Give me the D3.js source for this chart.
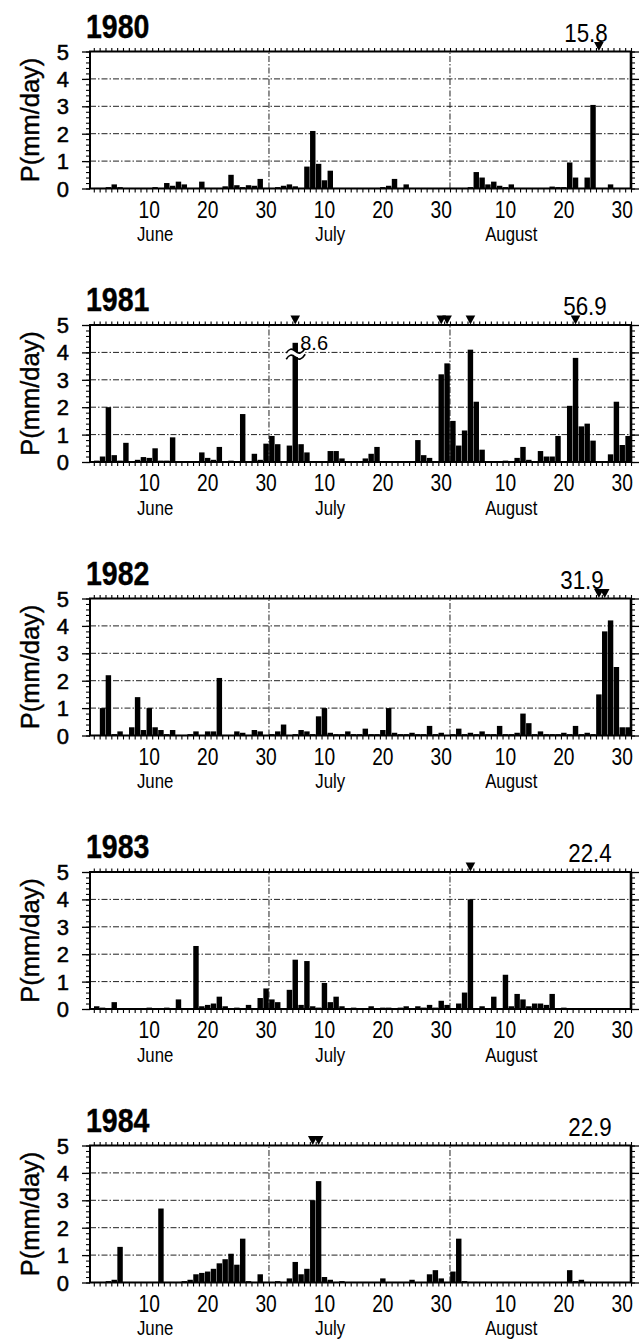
<!DOCTYPE html>
<html><head><meta charset="utf-8">
<script src="https://cdn.jsdelivr.net/npm/d3@7"></script>
<style>body{margin:0;background:#fff} svg{display:block}</style>
</head><body>
<svg id="chart" width="642" height="1340"></svg>
<script>
// Daily precipitation (mm/day), 1 June .. 31 August (92 days) for each summer
const years = ["1980", "1981", "1982", "1983", "1984"];
const totals = ["15.8", "56.9", "31.9", "22.4", "22.9"];

const p1980 = [
  0.02,0.02,0.05,0.15,0.05,0.02,0.02,0.02,0.02,0.02, 0.05,0.02,0.2,0.1,0.25,0.15,0.02,0.02,0.25,0.02,
  0.02,0.02,0.08,0.5,0.12,0.05,0.12,0.1,0.35,0.02,
  0.02,0.05,0.1,0.15,0.08,0.02,0.8,2.1,0.9,0.3, 0.65,0.02,0.02,0.02,0.02,0.02,0.02,0.02,0.02,0.05,
  0.1,0.35,0.02,0.15,0.02,0.02,0.02,0.02,0.02,0.02, 0.02,
  0.02,0.02,0.02,0.05,0.6,0.4,0.15,0.25,0.1,0.05, 0.15,0.02,0.02,0.02,0.02,0.02,0.02,0.07,0.05,0.05,
  0.95,0.4,0.02,0.4,3.05,0.02,0.02,0.15,0.02,0.02, 0.02
];
const p1981 = [
  0.05,0.2,2.0,0.25,0.05,0.7,0.02,0.08,0.18,0.15, 0.5,0.05,0.05,0.9,0.02,0.02,0.03,0.03,0.35,0.15,
  0.08,0.55,0.02,0.05,0.02,1.75,0.02,0.3,0.08,0.67,
  0.95,0.65,0.02,0.6,8.6,0.65,0.35,0.02,0.02,0.02, 0.4,0.4,0.13,0.02,0.02,0.02,0.13,0.3,0.55,0.02,
  0.02,0.02,0.02,0.02,0.02,0.8,0.25,0.15,0.02,3.2, 3.6,
  1.5,0.6,1.15,4.1,2.2,0.45,0.02,0.02,0.02,0.05, 0.02,0.15,0.55,0.08,0.02,0.4,0.2,0.2,0.95,0.02,
  2.05,3.8,1.3,1.4,0.78,0.02,0.02,0.28,2.2,0.62, 0.95
];
const p1982 = [
  0.02,1.0,2.2,0.05,0.15,0.02,0.3,1.4,0.2,1.0, 0.3,0.2,0.05,0.2,0.02,0.02,0.05,0.15,0.02,0.15,
  0.15,2.1,0.02,0.02,0.15,0.1,0.02,0.2,0.15,0.02,
  0.05,0.15,0.4,0.02,0.05,0.2,0.15,0.05,0.7,1.0, 0.1,0.05,0.05,0.15,0.05,0.05,0.25,0.05,0.05,0.2,
  1.0,0.1,0.05,0.05,0.1,0.05,0.05,0.35,0.05,0.1, 0.02,
  0.05,0.25,0.05,0.1,0.05,0.15,0.05,0.05,0.35,0.05, 0.05,0.1,0.8,0.45,0.05,0.15,0.05,0.05,0.05,0.1,
  0.05,0.35,0.05,0.1,0.05,1.5,3.8,4.2,2.5,0.3, 0.3
];
const p1983 = [
  0.1,0.05,0.02,0.25,0.02,0.02,0.02,0.02,0.02,0.05, 0.02,0.02,0.05,0.02,0.35,0.02,0.02,2.3,0.1,0.15,
  0.2,0.45,0.1,0.02,0.05,0.02,0.15,0.02,0.4,0.75,
  0.35,0.25,0.02,0.7,1.8,0.15,1.75,0.1,0.05,0.95, 0.25,0.45,0.1,0.02,0.05,0.02,0.02,0.1,0.02,0.05,
  0.05,0.02,0.05,0.1,0.02,0.1,0.05,0.15,0.05,0.3, 0.15,
  0.02,0.2,0.6,4.0,0.02,0.1,0.02,0.45,0.02,1.25, 0.1,0.55,0.35,0.1,0.2,0.2,0.15,0.55,0.02,0.05,
  0.02,0.02,0.02,0.02,0.02,0.02,0.02,0.02,0.02,0.02, 0.02
];
const p1984 = [
  0.02,0.02,0.05,0.1,1.3,0.02,0.02,0.02,0.02,0.02, 0.02,2.7,0.02,0.02,0.02,0.05,0.1,0.3,0.35,0.4,
  0.5,0.7,0.85,1.05,0.65,1.6,0.05,0.02,0.3,0.02,
  0.02,0.05,0.02,0.15,0.75,0.3,0.5,3.0,3.7,0.2, 0.1,0.02,0.05,0.02,0.02,0.02,0.02,0.02,0.02,0.15,
  0.02,0.02,0.02,0.02,0.1,0.02,0.02,0.3,0.45,0.15, 0.02,
  0.4,1.6,0.05,0.02,0.02,0.02,0.02,0.02,0.02,0.02, 0.02,0.02,0.02,0.02,0.02,0.02,0.02,0.02,0.02,0.02,
  0.45,0.05,0.1,0.02,0.02,0.02,0.02,0.02,0.02,0.02, 0.02
];
const series = [p1980, p1981, p1982, p1983, p1984];

// Days (0 = 1 June) flagged with a triangle above the frame
const marks1980 = [86];
const marks1981 = [34, 59, 60, 64, 82];
const marks1982 = [86, 87];
const marks1983 = [64];
const marks1984 = [37, 38];
const marks = [marks1980, marks1981, marks1982, marks1983, marks1984];

const yTickValues = [0, 1, 2, 3, 4, 5];
const dayLabels = [10, 20, 30];
const months = ["June", "July", "August"];
const monthStart = [0, 30, 61];
const totalX = [586, 585, 582, 590, 590];

const svg = d3.select("#chart");
const FONT = "'Liberation Sans', Arial, Helvetica, sans-serif";
const PANEL_STEP = 273.5;
const TOP0 = 51.5, PH = 137;
const CLIP = 4.35;   // off-scale bars are cut here with a break mark

const x = d3.scaleLinear().domain([-0.65, 92]).range([90, 631]);
const gridDash = "6,2,1.5,2";

function label(g, tx, ty, str, size, opts = {}) {
  const sx = opts.sx || 1;
  const t = g.append("text")
    .attr("transform", `translate(${tx},${ty}) scale(${sx},1)` + (opts.rot ? ` rotate(${opts.rot})` : ""))
    .attr("text-anchor", opts.anchor || "middle")
    .attr("font-family", FONT)
    .attr("font-size", size)
    .attr("font-weight", opts.weight || "normal")
    .attr("fill", "#000")
    .text(str);
  if (opts.heavy) t.attr("stroke", "#000").attr("stroke-width", opts.heavy);
  return t;
}

years.forEach((yr, i) => {
  const y5 = TOP0 + i * PANEL_STEP;
  const y0 = y5 + PH;
  const y = d3.scaleLinear().domain([0, 5]).range([y0, y5]);
  const g = svg.append("g");
  const data = series[i];

  // grid lines at 1..4 mm/day
  g.selectAll(".grid").data([1, 2, 3, 4]).join("line")
    .attr("x1", x.range()[0]).attr("x2", x.range()[1])
    .attr("y1", d => y(d)).attr("y2", d => y(d))
    .attr("stroke", "#222").attr("stroke-width", 1).attr("stroke-dasharray", gridDash);

  // month separators
  g.selectAll(".msep").data([30, 61]).join("line")
    .attr("x1", d => x(d)).attr("x2", d => x(d))
    .attr("y1", y0).attr("y2", y5)
    .attr("stroke", "#222").attr("stroke-width", 1).attr("stroke-dasharray", gridDash);

  // bars
  const shown = d => (d > 5 ? CLIP : d);
  g.selectAll(".bar").data(data).join("rect")
    .attr("x", (d, k) => x(k) + 0.2)
    .attr("width", (d, k) => x(k + 1) - x(k) - 0.4)
    .attr("y", d => y(shown(d)))
    .attr("height", d => y0 - y(shown(d)))
    .attr("fill", "#000");

  // break marks and value for off-scale bars
  data.forEach((d, k) => {
    if (d <= 5) return;
    const cx = x(k + 0.5);
    const ya = y(4.08), yb = y(3.86);
    const wave = (yy) => `M${cx - 9},${yy + 3} q4,-7 9,-2 t10,-3`;
    g.append("path")
      .attr("d", `M${cx - 9},${ya + 3} q4,-7 9,-2 t10,-3 L${cx + 10},${yb - 2} q-5,5 -10,2 t-9,3 Z`)
      .attr("fill", "#fff");
    [ya, yb].forEach(yy => g.append("path").attr("d", wave(yy))
      .attr("fill", "none").attr("stroke", "#000").attr("stroke-width", 1.6));
    label(g, cx + 5, y(4.1), String(d), 20, { anchor: "start" });
  });

  // axes with fine ticks
  const dayTicks = d3.range(0, 93);
  g.append("g").attr("transform", `translate(0,${y0})`)
    .call(d3.axisBottom(x).tickValues(dayTicks).tickSize(4).tickFormat(""))
    .call(a => a.select(".domain").remove())
    .call(a => a.selectAll("line").attr("stroke-width", 1.1));
  g.append("g").attr("transform", `translate(0,${y5})`)
    .call(d3.axisTop(x).tickValues(dayTicks).tickSize(3.5).tickFormat(""))
    .call(a => a.select(".domain").remove())
    .call(a => a.selectAll("line").attr("stroke-width", 1.1));
  const minor = d3.range(0, 5.001, 0.2);
  [[d3.axisLeft, x.range()[0]], [d3.axisRight, x.range()[1]]].forEach(([ax, px]) => {
    g.append("g").attr("transform", `translate(${px},0)`)
      .call(ax(y).tickValues(minor).tickSize(4).tickFormat(""))
      .call(a => a.select(".domain").remove())
      .call(a => a.selectAll("line").attr("stroke-width", 1.1));
    g.append("g").attr("transform", `translate(${px},0)`)
      .call(ax(y).tickValues(yTickValues).tickSize(8).tickFormat(""))
      .call(a => a.select(".domain").remove())
      .call(a => a.selectAll("line").attr("stroke-width", 1.3));
  });

  // frame
  const [fx0, fx1] = x.range();
  g.append("line").attr("x1", fx0 - 1).attr("x2", fx1 + 1).attr("y1", y5).attr("y2", y5)
    .attr("stroke", "#000").attr("stroke-width", 2.2);
  g.append("line").attr("x1", fx0 - 1).attr("x2", fx1 + 1).attr("y1", y0).attr("y2", y0)
    .attr("stroke", "#000").attr("stroke-width", 2.2);
  g.append("line").attr("x1", fx0).attr("x2", fx0).attr("y1", y5).attr("y2", y0)
    .attr("stroke", "#000").attr("stroke-width", 2);
  g.append("line").attr("x1", fx1).attr("x2", fx1).attr("y1", y5).attr("y2", y0)
    .attr("stroke", "#000").attr("stroke-width", 2.6);

  // triangles
  g.selectAll(".mark").data(marks[i]).join("path")
    .attr("d", d => {
      const cx = x(d + 0.5);
      return `M${cx - 4.8},${y5 - 9.5} L${cx + 4.8},${y5 - 9.5} L${cx},${y5 - 0.5} Z`;
    })
    .attr("fill", "#000");

  // y tick labels
  yTickValues.forEach(v => label(g, 69, y(v) + 8, String(v), 22, { anchor: "end", heavy: 0.5 }));

  // y axis title
  label(g, 39, (y0 + y5) / 2, "P(mm/day)", 25.5, { rot: -90, heavy: 0.4 });

  // x tick labels and months
  monthStart.forEach((ms, m) => {
    dayLabels.forEach(dl => label(g, x(ms + dl - 0.5), y0 + 29, String(dl), 24, { sx: 0.8 }));
    label(g, x(ms + 10.5), y0 + 52.5, months[m], 20, { sx: 0.84 });
  });

  // year title and seasonal total
  label(g, 86, y5 - 14, yr, 34, { anchor: "start", weight: "bold", sx: 0.84, heavy: 0.4 });
  label(g, totalX[i], y5 - 10, totals[i], 26, { sx: 0.86 });
});
</script>
</body></html>
